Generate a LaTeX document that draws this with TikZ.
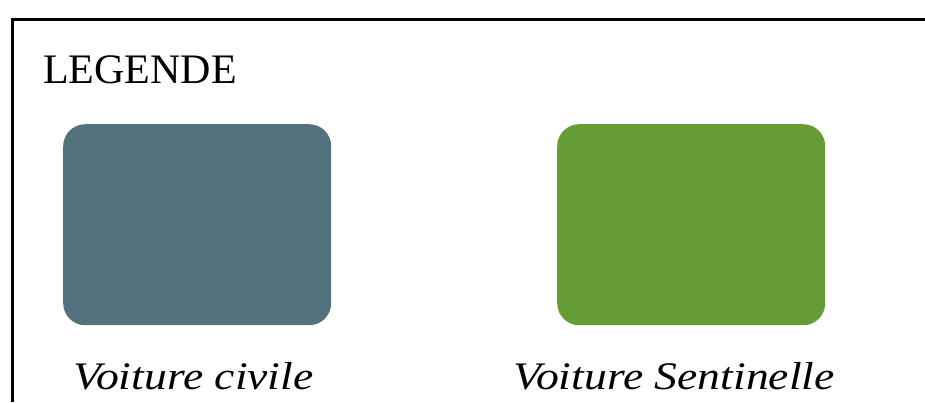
\documentclass[tikz,border=0pt]{standalone}
\usepackage{tikz}
\usepackage{fontspec}
\setmainfont{Liberation Serif}
\newfontfamily\capfont[FakeStretch=1.17]{Liberation Serif}
\definecolor{civgray}{HTML}{53727D}
\definecolor{sentgreen}{HTML}{669C35}
\tikzstyle{car} = [rectangle,rounded corners=22pt,minimum width=268pt,minimum height=201pt,inner sep=0pt,draw=none]
\tikzstyle{caption} = [anchor=base west,inner sep=0pt,font=\capfont\fontsize{39}{46}\selectfont\itshape]

\begin{document}
\begin{tikzpicture}[x=1pt,y=1pt]
\useasboundingbox (0,0) rectangle (925,-402);
\draw[line width=3pt](12.5,-402)--(12.5,-19)--(925,-19);

\node [anchor=base west,inner sep=0pt,font=\fontsize{42}{50}\selectfont](title) at (43,-83){LEGENDE};
\node [car,fill=civgray,anchor=north west](civ) at (63,-124){};
\node [car,fill=sentgreen,anchor=north west](sent) at (557,-124){};

\node [caption](civlabel) at (73,-389){Voiture civile};
\node [caption](sentlabel) at (513,-389){Voiture Sentinelle};

\end{tikzpicture}
\end{document}
